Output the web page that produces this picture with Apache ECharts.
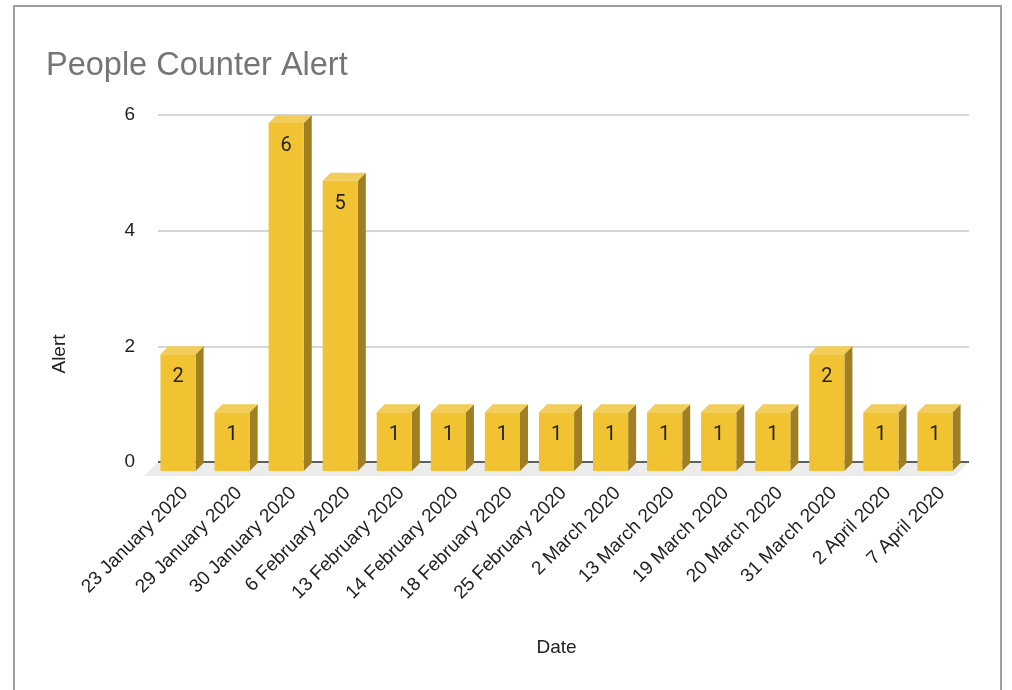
<!DOCTYPE html>
<html>
<head>
<meta charset="utf-8">
<title>People Counter Alert</title>
<script src="https://cdn.jsdelivr.net/npm/echarts@6/dist/echarts.min.js"></script>
<style>
	html, body { margin: 0; padding: 0; background: #fff; }
	#chart { width: 1012px; height: 690px; }
</style>
</head>
<body>
<div id="chart"></div>
<script>
// data
const categories = [
	'23 January 2020', '29 January 2020', '30 January 2020', '6 February 2020',
	'13 February 2020', '14 February 2020', '18 February 2020', '25 February 2020',
	'2 March 2020', '13 March 2020', '19 March 2020', '20 March 2020',
	'31 March 2020', '2 April 2020', '7 April 2020'
];
const alerts = [2, 1, 6, 5, 1, 1, 1, 1, 1, 1, 1, 1, 2, 1, 1];
const yMin = 0;
const yMax = 6;
const yStep = 2;

const textFont = '"Liberation Sans", Arial, sans-serif';
const depth = 8; // 3d offset of the bars

const chart = echarts.init(document.getElementById('chart'));

// floor under the bars + the dark base line
function renderFloor(params, api) {
	const cs = params.coordSys;
	const base = api.coord([0, 0])[1];
	const off = 14;
	return {
		type: 'group',
		children: [
			{
				type: 'polygon',
				shape: { points: [
					[cs.x, base], [cs.x + cs.width, base],
					[cs.x + cs.width - off, base + off], [cs.x - off, base + off]
				] },
				style: { fill: '#ececec' }
			},
			{
				type: 'line',
				shape: { x1: cs.x, y1: base, x2: cs.x + cs.width, y2: base },
				style: { stroke: '#333', lineWidth: 1.5 }
			}
		]
	};
}

// one box-shaped bar
function renderBar(params, api) {
	const idx = api.value(0);
	const top = api.coord([idx, api.value(1)]);
	const base = api.coord([idx, 0])[1];
	const w = api.size([1, 0])[0] * 0.65;
	const bx = top[0] - w / 2 + 1;
	const by = top[1];
	const fx = bx - depth;
	const fy = by + depth;
	const fb = base + 9;
	return {
		type: 'group',
		children: [
			{
				type: 'polygon',
				shape: { points: [[fx + w, fy], [bx + w, by], [bx + w, base + 1], [fx + w, fb]] },
				style: { fill: '#a07f23' }
			},
			{
				type: 'polygon',
				shape: { points: [[fx, fy], [bx, by], [bx + w, by], [fx + w, fy]] },
				style: { fill: '#f3cd5a' }
			},
			{
				type: 'rect',
				shape: { x: fx, y: fy, width: w, height: fb - fy },
				style: { fill: '#f1c232' }
			},
			{
				type: 'text',
				style: {
					text: String(api.value(1)),
					x: fx + w / 2,
					y: fy + 23,
					align: 'center',
					verticalAlign: 'middle',
					font: '20px Roboto, sans-serif',
					fill: '#222'
				}
			}
		]
	};
}

const option = {
	animation: false,
	title: {
		text: 'People Counter Alert',
		left: 46,
		top: 50,
		padding: 0,
		textStyle: {
			fontFamily: textFont,
			fontSize: 32.5,
			lineHeight: 32,
			fontWeight: 'normal',
			color: '#757575'
		}
	},
	graphic: [
		{
			type: 'rect',
			shape: { x: 14, y: 6, width: 987, height: 700 },
			style: { fill: 'none', stroke: '#9e9e9e', lineWidth: 2 },
			silent: true
		},
		{
			type: 'text',
			x: 60,
			y: 354,
			rotation: Math.PI / 2,
			style: {
				text: 'Alert',
				align: 'center',
				verticalAlign: 'middle',
				font: '19px ' + textFont,
				fill: '#222'
			}
		}
	],
	grid: {
		left: 158,
		right: 43,
		top: 115,
		bottom: 228
	},
	xAxis: {
		type: 'category',
		data: categories,
		name: 'Date',
		nameLocation: 'middle',
		nameGap: 186,
		nameTextStyle: {
			fontFamily: textFont,
			fontSize: 19,
			color: '#222',
			verticalAlign: 'middle',
			padding: [0, 14, 0, 0]
		},
		axisLine: { show: false },
		axisTick: { show: false },
		axisLabel: {
			interval: 0,
			rotate: 45,
			margin: 28,
			fontFamily: textFont,
			fontSize: 19,
			color: '#222'
		}
	},
	yAxis: {
		type: 'value',
		min: yMin,
		max: yMax,
		interval: yStep,
		axisLine: { show: false },
		axisTick: { show: false },
		axisLabel: {
			margin: 23,
			fontFamily: textFont,
			fontSize: 19,
			color: '#222'
		},
		splitLine: {
			lineStyle: { color: '#d6d6d6', width: 2 }
		}
	},
	series: [
		{
			type: 'custom',
			z: 1,
			renderItem: renderFloor,
			data: [[0, 0]],
			silent: true
		},
		{
			type: 'custom',
			z: 3,
			renderItem: renderBar,
			encode: { x: 0, y: 1 },
			data: alerts.map((v, i) => [i, v])
		}
	]
};

chart.setOption(option);

window.addEventListener('resize', () => {
	chart.resize();
});
</script>
</body>
</html>
